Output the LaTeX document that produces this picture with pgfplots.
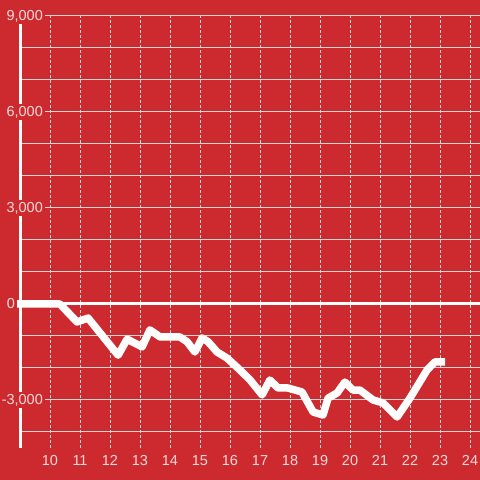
\documentclass[border=0pt]{standalone}
\usepackage{pgfplots}
\pgfplotsset{compat=1.18}
\usepackage{fontspec}
\setmainfont{Liberation Sans}
\definecolor{bgred}{RGB}{204,42,47}
\definecolor{txt}{RGB}{245,218,218}
\definecolor{gridc}{RGB}{215,215,215}
\begin{document}
\begin{tikzpicture}
\fill[bgred] (0,0) rectangle (480bp,480bp);
\useasboundingbox (0,0) rectangle (480bp,480bp);
\begin{axis}[
  at={(20bp,32bp)}, anchor=south west,
  scale only axis, width=460bp, height=432bp,
  xmin=9, xmax=24.3333, ymin=-4500, ymax=9000,
  clip=false,
  axis line style={draw=none},
  major tick length=0pt,
  xtick={10,...,24},
  ytick={-4000,-3000,...,9000},
  yticklabels={},
  xmajorgrids, ymajorgrids,
  x grid style={gridc, line width=1bp, dash pattern=on 3bp off 2bp},
  y grid style={gridc, line width=1bp},
  /pgf/number format/assume math mode=true,
  xticklabel style={font=\fontsize{14.5}{14.5}\selectfont, text=txt, anchor=base, yshift=-18bp},
]
\draw[white, line width=3bp] (axis cs:9,0) -- (axis cs:24.3333,0);
\draw[white, line width=3bp] (axis cs:9.0167,-4500) -- (axis cs:9.0167,9000);
\addplot[white, line width=7.5bp, line join=round, line cap=butt] coordinates {
(8.9,0) (10.33,0) (10.9,-560) (11.27,-440) (12.27,-1600) (12.57,-1100)
(13.07,-1340) (13.33,-810) (13.67,-1030) (14.33,-1030) (14.57,-1180)
(14.83,-1500) (15.07,-1060) (15.27,-1180) (15.57,-1500) (15.9,-1690)
(16.33,-2060) (16.67,-2375) (17.07,-2840) (17.33,-2375) (17.6,-2625)
(17.93,-2625) (18.4,-2750) (18.77,-3375) (19.1,-3470) (19.27,-2940)
(19.57,-2780) (19.83,-2440) (20.1,-2690) (20.33,-2690) (20.77,-3000)
(21.1,-3090) (21.57,-3530) (22.0,-2940) (22.57,-2060) (22.83,-1810)
(23.17,-1810)
};
\foreach \v/\t in {9000/{9,000},6000/{6,000},3000/{3,000},-3000/{-3,000}}{
  \edef\temp{\noexpand\node[fill=bgred, inner sep=2bp, anchor=east, text=txt, font=\noexpand\fontsize{14.5}{14.5}\noexpand\selectfont] at (axis cs:9.8333,\v) {\t};}
  \temp
}
\node[inner sep=2bp, anchor=east, text=txt, font=\fontsize{14.5}{14.5}\selectfont] at (axis cs:8.9,0) {0};
\end{axis}
\end{tikzpicture}
\end{document}
